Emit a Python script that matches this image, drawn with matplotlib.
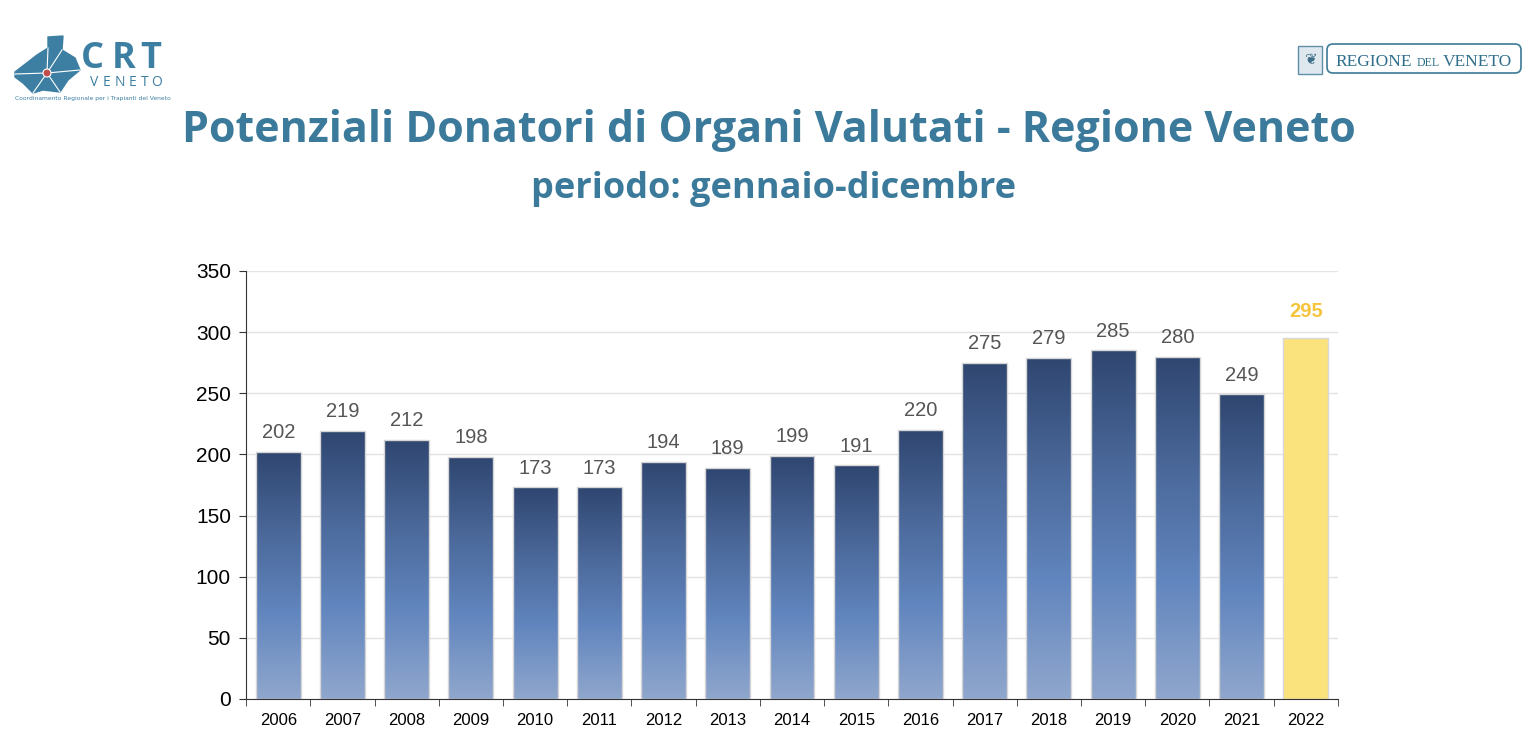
import matplotlib
matplotlib.use("Agg")
import matplotlib.pyplot as plt
from matplotlib.colors import LinearSegmentedColormap
from matplotlib.patches import Polygon, Circle, FancyBboxPatch, Rectangle
import numpy as np

years = ["2006", "2007", "2008", "2009", "2010", "2011", "2012", "2013", "2014",
         "2015", "2016", "2017", "2018", "2019", "2020", "2021", "2022"]
donors = [202, 219, 212, 198, 173, 173, 194, 189, 199, 191, 220, 275, 279, 285, 280, 249, 295]
y_ticks = [0, 50, 100, 150, 200, 250, 300, 350]

title_col = "#3b7a9b"
logo_col = "#3d7fa3"
grad = LinearSegmentedColormap.from_list(
    "bars", [(0.0, "#90a7cd"), (0.35, "#6185be"), (0.65, "#4c6a9c"), (1.0, "#2f4670")])

fig = plt.figure(figsize=(15.29, 7.5), dpi=100)
fig.patch.set_facecolor("white")

fig.text(0.503, 0.826, "Potenziali Donatori di Organi Valutati - Regione Veneto",
         ha="center", va="center", fontsize=31, fontweight="bold",
         color=title_col, family="Open Sans")
fig.text(0.506, 0.748, "periodo: gennaio-dicembre", ha="center", va="center",
         fontsize=26, fontweight="bold", color=title_col, family="Open Sans")

ax = fig.add_axes([0.161, 0.068, 0.714, 0.5707])
x = np.arange(len(years))
w = 0.70
for i, v in enumerate(donors):
    if years[i] == "2022":
        ax.bar(i, v, width=w, color="#fae27d", edgecolor="#d8d8d8", lw=1, zorder=2)
        ax.text(i, v + 14, str(v), ha="center", va="bottom", fontsize=14.5,
                fontweight="bold", color="#f5c43c", family="Liberation Sans")
    else:
        bar = ax.bar(i, v, width=w, facecolor="none", edgecolor="#d6d6d6", lw=1, zorder=3)[0]
        im = ax.imshow(np.linspace(0, 1, 256).reshape(-1, 1), cmap=grad, origin="lower",
                       aspect="auto", extent=[i - w / 2, i + w / 2, 0, v], zorder=2)
        im.set_clip_path(bar)
        ax.text(i, v + 8, str(v), ha="center", va="bottom", fontsize=14.5,
                color="#555555", family="Liberation Sans")
ax.set_xlim(-0.5, len(years) - 0.5)
ax.set_ylim(0, 350)

ax.set_yticks(y_ticks)
ax.set_yticklabels([str(t) for t in y_ticks], fontsize=15, family="Liberation Sans")
ax.set_xticks(x)
ax.set_xticklabels(years, fontsize=12, family="Liberation Sans")
ax.set_xticks(np.arange(-0.5, len(years)), minor=True)
ax.tick_params(axis="x", which="major", length=0, pad=10)
ax.tick_params(axis="x", which="minor", length=5, direction="out", color="#333333")
ax.tick_params(axis="y", length=5, color="#333333", pad=6)
ax.yaxis.grid(True, color="#e3e3e3", lw=1, zorder=0)
ax.set_axisbelow(True)
for s in ["top", "right"]:
    ax.spines[s].set_visible(False)
ax.spines["left"].set_color("#333333")
ax.spines["bottom"].set_color("#333333")

# logos, drawn in pixel coordinates
lax = fig.add_axes([0, 0, 1, 1], zorder=-1)
lax.set_xlim(0, 1529)
lax.set_ylim(750, 0)
lax.axis("off")

shape = [(15, 72), (37, 55), (48, 48), (48, 37), (63, 36), (62, 50), (75, 58),
         (80, 70), (68, 80), (60, 92), (43, 90), (33, 93), (23, 83), (15, 77)]
lax.add_patch(Polygon(shape, closed=True, color=logo_col))
for px, py in [(48, 48), (62, 50), (80, 70), (60, 92), (33, 93), (15, 74)]:
    lax.plot([47, px], [73, py], color="white", lw=0.8)
lax.add_patch(Circle((47, 73), 4, color="#c0504d", ec="white", lw=0.8, zorder=5))
for letter, lx in zip("CRT", [81, 112, 140]):
    lax.text(lx, 68, letter, fontsize=26, color=logo_col, family="Open Sans",
             fontweight="bold", va="baseline", ha="left")
for letter, lx in zip("VENETO", [94, 107, 120, 133, 145, 157]):
    lax.text(lx, 86, letter, fontsize=10, color=logo_col, family="Open Sans",
             va="baseline", ha="center")
lax.text(15, 100, "Coordinamento Regionale per i Trapianti del Veneto", fontsize=4.3,
         color=logo_col, va="baseline", ha="left")

lax.add_patch(Rectangle((1298, 46), 24, 28, facecolor="#dfe8ee", edgecolor="#5f8fa8", lw=1))
lax.text(1310, 60, "\u2766", ha="center", va="center", fontsize=11, color="#3f6f88")
lax.add_patch(FancyBboxPatch((1327, 44), 194, 29, boxstyle="round,pad=0,rounding_size=6",
                             facecolor="white", edgecolor="#3d7a95", lw=1.2))
lax.text(1335, 66, "REGIONE", ha="left", va="baseline", fontsize=12.5,
         color="#2f6f8c", family="Liberation Serif")
lax.text(1428, 66, "DEL", ha="center", va="baseline", fontsize=8.5,
         color="#2f6f8c", family="Liberation Serif")
lax.text(1512, 66, "VENETO", ha="right", va="baseline", fontsize=12.5,
         color="#2f6f8c", family="Liberation Serif")

fig.savefig("out.png", dpi=100, facecolor="white")
